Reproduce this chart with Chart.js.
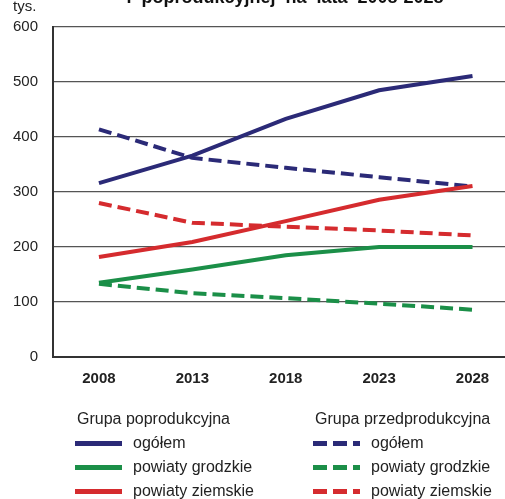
<!DOCTYPE html>
<html lang="pl">
<head>
<meta charset="utf-8">
<title>Ludność w wieku przedprodukcyjnym i poprodukcyjnym 2008-2028</title>
<script src="https://cdn.jsdelivr.net/npm/chart.js@4.4.1/dist/chart.umd.min.js"></script>
<style>
  html, body { margin: 0; padding: 0; background: #fff; overflow: hidden; }
  #wrap { position: relative; width: 505px; height: 499px; }
  #legenda {
    position: absolute; left: 0; top: 0; width: 505px; height: 499px;
    font-family: "Liberation Sans", Arial, sans-serif; font-size: 16px; color: #222;
    pointer-events: none;
  }
  .naglowek, .wpis { position: absolute; white-space: nowrap; line-height: 18px; }
  .probka { position: absolute; height: 5px; width: 47px; }
</style>
</head>
<body>
<div id="wrap">
  <canvas id="wykres" width="505" height="499"></canvas>
  <div id="legenda"></div>
</div>
<script>
// Lata prognozy
const lata = [2008, 2013, 2018, 2023, 2028];
const podzialkaY = [0, 100, 200, 300, 400, 500, 600];

// Grupa poprodukcyjna (tys.)
const poprodOgolem = [316, 366, 433, 485, 511];
const poprodGrodzkie = [135, 159, 185, 200, 200];
const poprodZiemskie = [182, 209, 247, 286, 311];

// Grupa przedprodukcyjna (tys.)
const przedprodOgolem = [414, 362, 344, 327, 310];
const przedprodGrodzkie = [133, 116, 107, 97, 86];
const przedprodZiemskie = [280, 244, 237, 230, 221];

const kolory = { ogolem: '#2b2a77', grodzkie: '#1b8f48', ziemskie: '#d52b2e' };
const kreska = [13, 6];

function seria(label, wartosci, kolor, przerywana) {
    return {
        label: label,
        data: lata.map((rok, i) => ({ x: rok, y: wartosci[i] })),
        borderColor: kolor,
        backgroundColor: kolor,
        borderWidth: 4,
        borderDash: przerywana ? kreska : [],
        borderCapStyle: 'butt',
        pointRadius: 0,
        tension: 0,
        fill: false
    };
}

// Napisy nad wykresem: fragment tytułu i jednostka
const napisyGorne = {
    id: 'napisyGorne',
    afterDraw(chart) {
        const ctx = chart.ctx;
        ctx.save();
        ctx.fillStyle = '#222';
        ctx.font = '15px "Liberation Sans", Arial, sans-serif';
        ctx.textAlign = 'left';
        ctx.textBaseline = 'alphabetic';
        ctx.fillText('tys.', 13, 11);
        ctx.fillStyle = '#111';
        ctx.font = 'bold 18px "Liberation Sans", Arial, sans-serif';
        ctx.textAlign = 'center';
        ctx.fillText('i  poprodukcyjnej  na  lata  2008-2028', 285, 3);
        ctx.restore();
    }
};

new Chart(document.getElementById('wykres'), {
    type: 'line',
    data: {
        datasets: [
            seria('ogółem', poprodOgolem, kolory.ogolem, false),
            seria('powiaty grodzkie', poprodGrodzkie, kolory.grodzkie, false),
            seria('powiaty ziemskie', poprodZiemskie, kolory.ziemskie, false),
            seria('ogółem', przedprodOgolem, kolory.ogolem, true),
            seria('powiaty grodzkie', przedprodGrodzkie, kolory.grodzkie, true),
            seria('powiaty ziemskie', przedprodZiemskie, kolory.ziemskie, true)
        ]
    },
    options: {
        responsive: false,
        animation: false,
        layout: { padding: { top: 27, left: 0, right: 0, bottom: 0 } },
        plugins: {
            legend: { display: false },
            tooltip: { enabled: false },
            title: { display: false }
        },
        scales: {
            x: {
                type: 'linear',
                min: 2005.54,
                max: 2029.74,
                afterBuildTicks: scale => { scale.ticks = lata.map(v => ({ value: v })); },
                afterFit: scale => { scale.height = 142; },
                grid: { display: false, drawTicks: false },
                border: { display: true, color: '#333', width: 2 },
                ticks: {
                    padding: 13,
                    color: '#222',
                    font: { family: '"Liberation Sans", Arial, sans-serif', size: 15, weight: 'bold' },
                    callback: v => String(v)
                }
            },
            y: {
                min: 0,
                max: 600,
                afterBuildTicks: scale => { scale.ticks = podzialkaY.map(v => ({ value: v })); },
                afterFit: scale => { scale.width = 53; },
                grid: { color: '#555', lineWidth: 1.3, drawTicks: false },
                border: { display: true, color: '#333', width: 2 },
                ticks: {
                    padding: 15,
                    color: '#222',
                    font: { family: '"Liberation Sans", Arial, sans-serif', size: 15 },
                    callback: v => String(v)
                }
            }
        }
    },
    plugins: [napisyGorne]
});

// Legenda w dwóch kolumnach z nagłówkami grup
const kolumny = [
    { x: 77, tytul: 'Grupa poprodukcyjna', przerywana: false },
    { x: 315, tytul: 'Grupa przedprodukcyjna', przerywana: true }
];
const wiersze = [
    { nazwa: 'ogółem', kolor: kolory.ogolem },
    { nazwa: 'powiaty grodzkie', kolor: kolory.grodzkie },
    { nazwa: 'powiaty ziemskie', kolor: kolory.ziemskie }
];
const legenda = document.getElementById('legenda');
kolumny.forEach(k => {
    const h = document.createElement('div');
    h.className = 'naglowek';
    h.style.left = k.x + 'px';
    h.style.top = '410px';
    h.textContent = k.tytul;
    legenda.appendChild(h);
    wiersze.forEach((w, i) => {
        const yc = 443 + i * 24;
        const p = document.createElement('div');
        p.className = 'probka';
        p.style.left = (k.x - 2) + 'px';
        p.style.top = (yc - 2.5) + 'px';
        p.style.background = k.przerywana
            ? `repeating-linear-gradient(to right, ${w.kolor} 0 14px, transparent 14px 20px)`
            : w.kolor;
        legenda.appendChild(p);
        const t = document.createElement('div');
        t.className = 'wpis';
        t.style.left = (k.x + 56) + 'px';
        t.style.top = (yc - 9) + 'px';
        t.textContent = w.nazwa;
        legenda.appendChild(t);
    });
});
</script>
</body>
</html>
